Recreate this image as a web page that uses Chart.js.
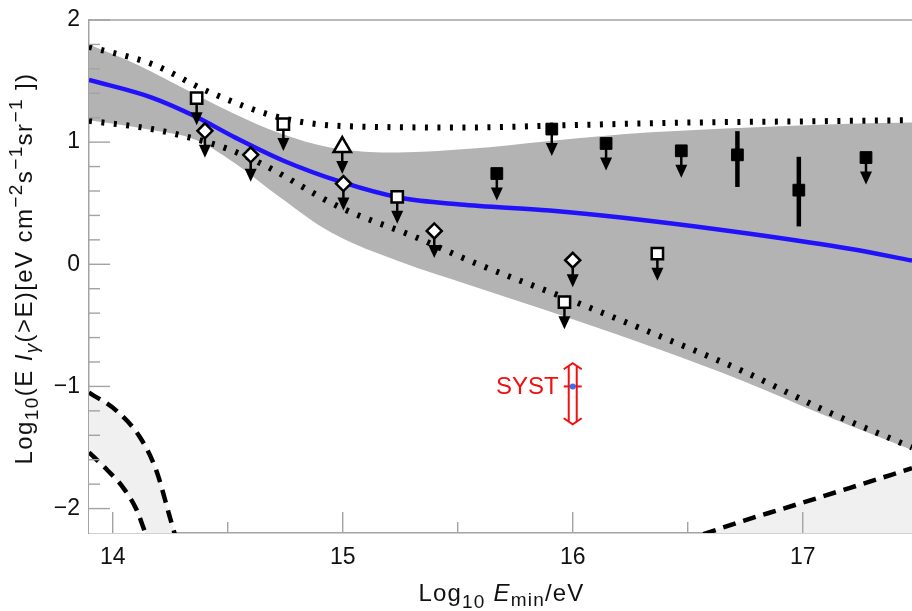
<!DOCTYPE html>
<html><head><meta charset="utf-8">
<script src="https://cdn.jsdelivr.net/npm/chart.js@4"></script>
<style>html,body{margin:0;padding:0;background:#fff;overflow:hidden}</style>
</head><body>
<canvas id="c" width="912" height="611"></canvas>
<script>
// ---------- data ----------
const X_MIN = 13.897, X_MAX = 17.475, Y_MIN = -2.2, Y_MAX = 2.0;
const xTickValues = [14, 15, 16, 17];
const xTickLabels = ['14', '15', '16', '17'];
const xMinorTicks = [14.5, 15.5, 16.5];
const yTickValues = [-2, -1, 0, 1, 2];
const yTickLabels = ['\u22122', '\u22121', '0', '1', '2'];
const yMinorTicks = [-1.8, -1.6, -1.4, -1.2, -0.8, -0.6, -0.4, -0.2, 0.2, 0.4, 0.6, 0.8, 1.2, 1.4, 1.6, 1.8];

// gray band
const grayUpperX = [13.897, 14.1, 14.36, 14.53, 14.73, 14.95, 15.24, 15.55, 15.9, 16.34, 16.77, 17.2, 17.475];
const grayUpperY = [1.80, 1.64, 1.39, 1.23, 1.07, 0.955, 0.915, 0.945, 1.01, 1.08, 1.12, 1.15, 1.16];
const grayLowerX = [13.897, 14.17, 14.36, 14.53, 14.73, 14.95, 15.25, 15.55, 16.0, 16.38, 16.74, 17.1, 17.475];
const grayLowerY = [1.18, 1.10, 1.02, 0.83, 0.545, 0.26, 0.02, -0.17, -0.45, -0.70, -0.955, -1.24, -1.52];
// dotted bounds
const dotUpperX = [13.897, 14.17, 14.42, 14.73, 15.02, 15.55, 16.0, 16.5, 17.0, 17.475];
const dotUpperY = [1.78, 1.64, 1.41, 1.20, 1.13, 1.12, 1.14, 1.16, 1.17, 1.18];
const dotLowerX = [13.897, 14.17, 14.36, 14.5, 14.65, 14.99, 15.32, 15.55, 16.0, 16.38, 16.74, 17.1, 17.475];
const dotLowerY = [1.175, 1.107, 1.025, 0.945, 0.82, 0.465, 0.22, 0.03, -0.30, -0.59, -0.875, -1.20, -1.50];
// blue curve
const blueX = [13.897, 14.17, 14.36, 14.53, 14.74, 15.0, 15.25, 15.51, 15.9, 16.34, 16.77, 17.21, 17.475];
const blueY = [1.51, 1.365, 1.21, 1.04, 0.85, 0.67, 0.545, 0.49, 0.44, 0.355, 0.25, 0.125, 0.03];
// dashed curves
const dashLeftUpperX = [13.897, 14.017, 14.12, 14.19, 14.25, 14.27];
const dashLeftUpperY = [-1.05, -1.20, -1.42, -1.69, -2.08, -2.21];
const dashLeftLowerX = [13.897, 13.974, 14.046, 14.104, 14.14];
const dashLeftLowerY = [-1.54, -1.68, -1.83, -2.01, -2.19];
const dashRightX = [16.568, 16.742, 16.916, 17.206, 17.475];
const dashRightY = [-2.21, -2.10, -2.0, -1.83, -1.67];
// markers (upper limits unless an error range is given)
const openSqX = [14.365, 14.742, 15.237, 15.964, 16.368];
const openSqY = [1.36, 1.148, 0.552, -0.31, 0.087];
const diamondX = [14.401, 14.60, 15.003, 15.398, 16.0];
const diamondY = [1.093, 0.896, 0.661, 0.273, 0.033];
const triangleX = [14.998];
const triangleY = [0.96];
const filledSqX = [15.67, 15.909, 16.145, 16.472, 16.716, 16.983, 17.275];
const filledSqY = [0.743, 1.107, 0.989, 0.929, 0.896, 0.607, 0.874];
const filledSqErrLow = [null, null, null, null, 0.633, 0.31, null];
const filledSqErrHigh = [null, null, null, null, 1.09, 0.88, null];
// systematic marker
const systX = 16.0, systY = -1.0, systLow = -1.31, systHigh = -0.81;
const systLabel = 'SYST';

// ---------- helpers ----------
const FONT = "'Liberation Sans', Arial, sans-serif";
const AXIS = '#a3a3a3';
const xy = (xs, ys) => xs.map((x, i) => ({ x, y: ys[i] }));

function drawRich(ctx, segs, cx, baseY, spacing) {
  const fontOf = s => (s.italic ? 'italic ' : '') + s.size + 'px ' + FONT;
  ctx.letterSpacing = spacing + 'px';
  let total = 0;
  const ws = segs.map(s => { ctx.font = fontOf(s); const w = ctx.measureText(s.t).width; total += w; return w; });
  let x = cx - total / 2;
  ctx.textAlign = 'left'; ctx.textBaseline = 'alphabetic';
  segs.forEach((s, i) => { ctx.font = fontOf(s); ctx.fillText(s.t, x, baseY + (s.dy || 0)); x += ws[i]; });
  ctx.letterSpacing = '0px';
}

const xTitle = [
  { t: 'Log', size: 24 }, { t: '10', size: 19, dy: 7 }, { t: ' ', size: 24 },
  { t: 'E', size: 24, italic: true }, { t: 'min', size: 19, dy: 5 }, { t: '/eV', size: 24 }
];
const yTitle = [
  { t: 'Log', size: 24 }, { t: '10', size: 19, dy: 6 }, { t: '(E ', size: 24 },
  { t: 'I', size: 24, italic: true }, { t: '\u03B3', size: 19, italic: true, dy: 6 },
  { t: '(>E)[eV cm', size: 24 }, { t: '\u22122', size: 19, dy: -10 }, { t: 's', size: 24 },
  { t: '\u22121', size: 19, dy: -10 }, { t: 'sr', size: 24 }, { t: '\u22121', size: 19, dy: -10 },
  { t: ' ])', size: 24 }
];

const overlay = {
  id: 'overlay',
  beforeDatasetDraw(chart, args) {
    const ds = chart.data.datasets[args.index];
    if (!ds.limitMarks) return;
    const ctx = chart.ctx, ys = chart.scales.y;
    ctx.save();
    ctx.fillStyle = '#000'; ctx.strokeStyle = '#000';
    args.meta.data.forEach((el, i) => {
      const x = el.x, y = el.y;
      const lo = ds.errLow ? ds.errLow[i] : null;
      if (lo == null) {
        ctx.lineWidth = 2.5;
        ctx.beginPath(); ctx.moveTo(x, y); ctx.lineTo(x, y + 16); ctx.stroke();
        ctx.beginPath(); ctx.moveTo(x - 6, y + 14); ctx.lineTo(x + 6, y + 14); ctx.lineTo(x, y + 27); ctx.closePath(); ctx.fill();
      } else {
        const yl = ys.getPixelForValue(lo), yh = ys.getPixelForValue(ds.errHigh[i]);
        ctx.lineWidth = 4.5;
        ctx.beginPath(); ctx.moveTo(x, yh); ctx.lineTo(x, yl); ctx.stroke();
      }
    });
    ctx.restore();
  },
  afterDatasetsDraw(chart) {
    const ctx = chart.ctx, xs = chart.scales.x, ys = chart.scales.y;
    const { left, right, top, bottom } = chart.chartArea;
    ctx.save();
    ctx.strokeStyle = AXIS; ctx.lineWidth = 1.4;
    const seg = (a, b, c, d) => { ctx.beginPath(); ctx.moveTo(a, b); ctx.lineTo(c, d); ctx.stroke(); };
    seg(left, top, right, top);
    xTickValues.forEach(v => { const p = xs.getPixelForValue(v); seg(p, bottom, p, bottom - 21); });
    xMinorTicks.forEach(v => { const p = xs.getPixelForValue(v); seg(p, bottom, p, bottom - 11); });
    yTickValues.forEach(v => { const p = ys.getPixelForValue(v); seg(left, p, left + 21, p); });
    yMinorTicks.forEach(v => { const p = ys.getPixelForValue(v); seg(left, p, left + 11, p); });
    // SYST marker
    const sx = xs.getPixelForValue(systX), sy = ys.getPixelForValue(systY);
    const st = ys.getPixelForValue(systHigh), sb = ys.getPixelForValue(systLow);
    ctx.strokeStyle = '#f01010'; ctx.lineWidth = 2;
    seg(sx - 4, st + 3, sx - 4, sb - 3);
    seg(sx + 4, st + 3, sx + 4, sb - 3);
    ctx.beginPath(); ctx.moveTo(sx - 9, st + 6); ctx.lineTo(sx, st); ctx.lineTo(sx + 9, st + 6); ctx.stroke();
    ctx.beginPath(); ctx.moveTo(sx - 9, sb - 6); ctx.lineTo(sx, sb); ctx.lineTo(sx + 9, sb - 6); ctx.stroke();
    seg(sx - 9, sy, sx + 9, sy);
    ctx.fillStyle = '#3a6cf0';
    ctx.beginPath(); ctx.arc(sx, sy, 3, 0, Math.PI * 2); ctx.fill();
    ctx.fillStyle = '#f01010';
    ctx.font = '24px ' + FONT; ctx.textAlign = 'right'; ctx.textBaseline = 'middle';
    ctx.fillText(systLabel, sx - 14, sy + 1);
    ctx.restore();
  },
  afterDraw(chart) {
    const ctx = chart.ctx;
    ctx.save();
    ctx.fillStyle = '#111';
    drawRich(ctx, xTitle, 501.5, 601, 1.2);
    ctx.translate(32, 268.5);
    ctx.rotate(-Math.PI / 2);
    drawRich(ctx, yTitle, 0, 0, 1.4);
    ctx.restore();
  }
};

const lineDs = (data, extra) => Object.assign({
  data, pointRadius: 0, fill: false, cubicInterpolationMode: 'monotone', clip: 0, borderColor: '#000'
}, extra);
const markDs = (data, extra) => Object.assign({
  data, showLine: false, pointBorderColor: '#000', pointBackgroundColor: '#fff',
  pointBorderWidth: 2.5, pointHoverRadius: 0, order: 1, limitMarks: true, clip: false
}, extra);

const chart = new Chart(document.getElementById('c'), {
  type: 'line',
  data: {
    datasets: [
      markDs(xy(openSqX, openSqY), { pointStyle: 'rect', pointRadius: 8 }),
      markDs(xy(diamondX, diamondY), { pointStyle: 'rectRot', pointRadius: 7.5 }),
      markDs(xy(triangleX, triangleY), { pointStyle: 'triangle', pointRadius: 10 }),
      markDs(xy(filledSqX, filledSqY), { pointStyle: 'rect', pointRadius: 8.3, pointBackgroundColor: '#000', pointBorderWidth: 1, errLow: filledSqErrLow, errHigh: filledSqErrHigh }),
      lineDs(xy(blueX, blueY), { borderColor: 'rgb(34,18,250)', borderWidth: 4.5, order: 3 }),
      lineDs(xy(dotUpperX, dotUpperY), { borderWidth: 6, borderDash: [3, 9.5], order: 4 }),
      lineDs(xy(dotLowerX, dotLowerY), { borderWidth: 6, borderDash: [3, 9.5], order: 4 }),
      lineDs(xy(grayUpperX, grayUpperY), { borderWidth: 0, borderColor: 'rgba(0,0,0,0)', fill: { target: 8 }, backgroundColor: '#b3b3b3', order: 9 }),
      lineDs(xy(grayLowerX, grayLowerY), { borderWidth: 0, borderColor: 'rgba(0,0,0,0)', order: 9 }),
      lineDs(xy(dashLeftUpperX, dashLeftUpperY), { borderWidth: 4.5, borderDash: [13, 8], fill: 'start', backgroundColor: '#f0f0f0', order: 8 }),
      lineDs(xy(dashLeftLowerX, dashLeftLowerY), { borderWidth: 4.5, borderDash: [13, 8], fill: 'start', backgroundColor: '#ffffff', order: 7 }),
      lineDs(xy(dashRightX, dashRightY), { borderWidth: 4.5, borderDash: [13, 8], fill: 'start', backgroundColor: '#f0f0f0', order: 7 })
    ]
  },
  options: {
    responsive: false, animation: false, devicePixelRatio: 1,
    layout: { autoPadding: false, padding: { top: 20, left: 0, right: 0, bottom: 0 } },
    plugins: { legend: { display: false }, tooltip: { enabled: false } },
    events: [],
    scales: {
      x: {
        type: 'linear', min: X_MIN, max: X_MAX,
        afterBuildTicks: s => { s.ticks = xTickValues.map(v => ({ value: v })); },
        afterFit: s => { s.height = 78; s.paddingLeft = 0; s.paddingRight = 0; },
        grid: { display: false, drawTicks: false },
        border: { display: true, color: AXIS, width: 1.5 },
        ticks: { font: { family: FONT, size: 23 }, color: '#111', padding: 11, maxRotation: 0, autoSkip: false,
                 callback: (v, i) => xTickLabels[i] }
      },
      y: {
        type: 'linear', min: Y_MIN, max: Y_MAX,
        afterBuildTicks: s => { s.ticks = yTickValues.map(v => ({ value: v })); },
        afterFit: s => { s.width = 89; s.paddingTop = 0; s.paddingBottom = 0; },
        grid: { display: false, drawTicks: false },
        border: { display: true, color: AXIS, width: 1.5 },
        ticks: { font: { family: FONT, size: 23 }, color: '#111', padding: 9, autoSkip: false,
                 callback: (v, i) => yTickLabels[i] }
      }
    }
  },
  plugins: [overlay]
});
</script>
</body></html>
